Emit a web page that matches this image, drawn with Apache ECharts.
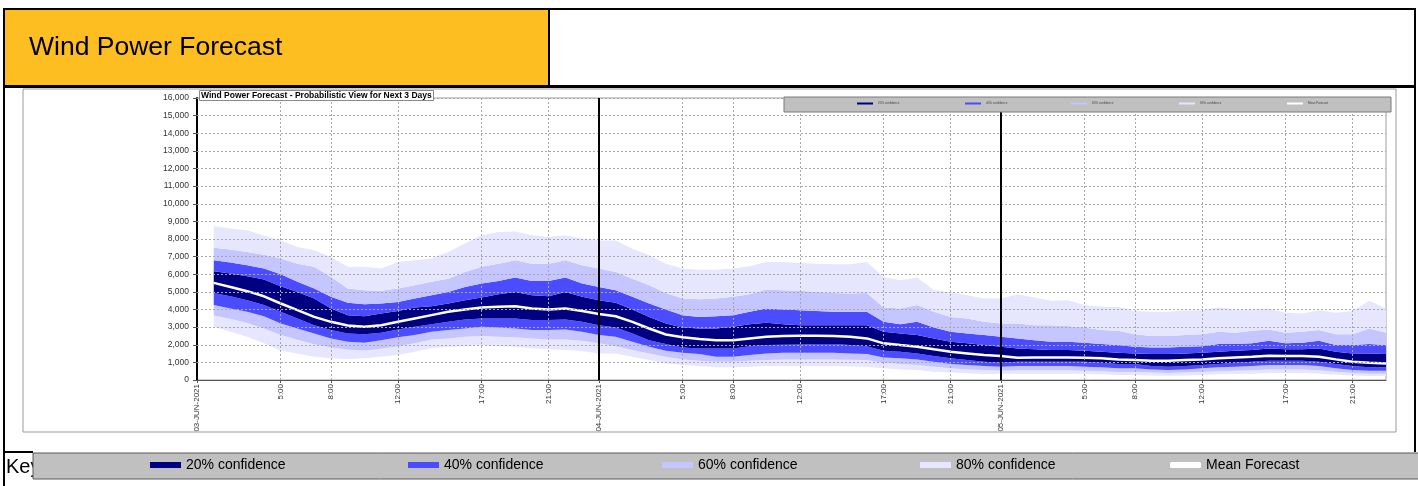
<!DOCTYPE html>
<html><head><meta charset="utf-8">
<script src="https://cdn.jsdelivr.net/npm/echarts@6/dist/echarts.min.js"></script>
<style>html,body{margin:0;padding:0;background:#fff;overflow:hidden}#c{width:1418px;height:486px}</style>
</head><body><div id="c"></div>
<script>
// ---- DATA (MW), hours counted from 03-JUN-2021 00:00 (hour 0 has no forecast) ----
const hours = [0,1,2,3,4,5,6,7,8,9,10,11,12,13,14,15,16,17,18,19,20,21,22,23,24,
  25,26,27,28,29,30,31,32,33,34,35,36,37,38,39,40,41,42,43,44,45,46,47,48,
  49,50,51,52,53,54,55,56,57,58,59,60,61,62,63,64,65,66,67,68,69,70,71];

const upper80 = [null,8720,8600,8490,8200,7920,7550,7360,6980,6420,6420,6320,6700,6790,6890,7260,7740,8210,8400,8430,8210,8110,8210,8020,7920,
  7920,7450,7080,6600,6320,6260,6260,6320,6450,6700,6700,6640,6600,6570,6570,6700,5850,5660,5810,5090,5000,4810,4620,4620,
  4870,4680,4490,4530,4250,4150,4150,3920,3870,3870,3960,3960,4110,4000,4000,4060,3810,3770,3960,3810,3920,4490,4060];
const upper60 = [null,7510,7400,7260,7110,6890,6600,6420,5850,5190,5090,5060,5190,5380,5570,5750,6130,6420,6600,6790,6600,6600,6790,6510,6320,
  6130,5750,5380,4940,4620,4580,4620,4720,4870,5130,5090,5060,5000,4940,4910,4940,4110,4060,4250,3870,3580,3490,3300,3210,
  3210,3110,3110,3060,2980,2830,2790,2600,2490,2490,2550,2600,2740,2680,2790,2870,2680,2740,2830,2600,2600,2920,2680];
const upper40 = [null,6790,6660,6510,6320,6000,5570,5190,4720,4380,4300,4340,4430,4620,4810,5000,5280,5470,5620,5810,5620,5620,5810,5470,5280,
  5090,4720,4340,4000,3680,3580,3620,3680,3870,4060,4000,3960,3920,3870,3870,3870,3300,3170,3300,2980,2740,2640,2550,2450,
  2360,2260,2170,2170,2110,2040,1980,1890,1850,1850,1890,1920,2040,2040,2080,2230,2080,2110,2230,1980,1980,2040,1980];
const upper20 = [null,6170,6040,5890,5700,5320,5000,4620,4060,3680,3620,3770,3920,4110,4190,4340,4530,4680,4870,5000,4810,4750,5000,4720,4530,
  4380,4000,3580,3210,2980,2920,2920,3020,3170,3250,3170,3110,3110,3110,3110,3110,2740,2640,2550,2360,2170,2080,1980,1890,
  1790,1740,1700,1700,1660,1600,1550,1510,1470,1470,1510,1550,1600,1660,1700,1790,1740,1740,1790,1600,1510,1510,1470];
const meanForecast = [null,5510,5280,5040,4750,4340,3960,3580,3300,3090,3020,3110,3300,3490,3680,3870,4000,4110,4150,4190,4060,4000,4060,3920,3740,
  3620,3300,2920,2580,2420,2320,2260,2260,2360,2450,2490,2510,2510,2490,2450,2360,2080,1980,1890,1740,1600,1510,1420,1360,
  1260,1280,1280,1280,1260,1230,1170,1130,1090,1090,1130,1170,1230,1280,1320,1380,1360,1360,1320,1170,1040,980,940];
const lower20 = [null,4940,4750,4530,4250,3870,3490,3110,2830,2640,2600,2680,2870,3020,3170,3300,3430,3490,3490,3490,3400,3400,3430,3300,3110,
  2980,2640,2260,2040,1850,1790,1790,1790,1920,1980,2000,2020,2040,2040,1980,1920,1660,1600,1510,1360,1230,1130,1040,980,
  1040,1040,1040,1040,1040,980,910,910,790,750,790,850,910,980,1040,1090,1090,1090,1040,910,790,720,720];
const lower40 = [null,4250,4060,3870,3620,3210,2920,2640,2360,2170,2110,2260,2420,2550,2740,2830,2920,3020,2980,2920,2830,2830,2870,2740,2550,
  2450,2170,1890,1660,1550,1470,1320,1320,1420,1510,1550,1550,1550,1550,1510,1470,1280,1230,1170,1040,910,850,790,750,
  790,790,790,790,750,720,660,660,600,570,600,660,720,750,790,850,850,850,790,660,570,530,530];
const lower60 = [null,3660,3470,3230,2920,2550,2280,2030,1840,1730,1670,1780,1920,2080,2300,2360,2450,2490,2450,2420,2360,2300,2300,2230,2080,
  1920,1700,1510,1320,1170,1090,1040,1040,1090,1130,1170,1170,1170,1170,1150,1130,980,910,850,750,660,600,570,530,
  550,550,550,550,530,500,450,450,420,400,420,450,500,530,550,600,600,600,550,470,400,360,360];
const lower80 = [null,3020,2740,2460,2080,1660,1510,1320,1230,1190,1230,1320,1420,1600,1800,1890,1920,1980,1920,1890,1790,1740,1700,1640,1510,
  1510,1320,1130,940,850,790,720,720,750,790,790,790,790,790,770,750,660,600,570,470,420,380,340,340,
  360,360,360,360,340,320,280,280,260,240,260,280,320,340,360,400,400,400,360,300,250,220,220];

const tickHours  = [0,5,8,12,17,21,24,29,32,36,41,45,48,53,56,60,65,69];
const tickLabels = ['03-JUN-2021','5:00','8:00','12:00','17:00','21:00',
  '04-JUN-2021','5:00','8:00','12:00','17:00','21:00',
  '05-JUN-2021','5:00','8:00','12:00','17:00','21:00'];
const dayHours = [24,48];
const legendNames = ['20% confidence','40% confidence','60% confidence','80% confidence','Mean Forecast'];

// ---- styling ----
const bandColor = {'20% confidence':'#000080','40% confidence':'#4b4bff','60% confidence':'#c5c5ff','80% confidence':'#e6e6ff','Mean Forecast':'#ffffff'};
const FONT = 'Arial, "Liberation Sans", sans-serif';
const Y_MAX = 16000, Y_STEP = 1000;

const cats = hours.map(String);
const bounds = [lower80, lower60, lower40, lower20, upper20, upper40, upper60, upper80];
const segNames = ['80% confidence','60% confidence','40% confidence','20% confidence','40% confidence','60% confidence','80% confidence'];
const nz = v => (v === null ? '-' : v);

const series = [];
series.push({
  name: 'base', type: 'line', stack: 'bands', symbol: 'none', silent: true, z: 2,
  lineStyle: {opacity: 0}, itemStyle: {color: 'transparent'},
  data: lower80.map(nz)
});
segNames.forEach((nm, k) => {
  series.push({
    name: nm, type: 'line', stack: 'bands', symbol: 'none', silent: true, z: 2,
    color: bandColor[nm],
    lineStyle: {width: 0, opacity: 0},
    areaStyle: {color: bandColor[nm], opacity: 1},
    data: hours.map((h, i) => bounds[k][i] === null ? '-' : bounds[k + 1][i] - bounds[k][i])
  });
});

const yGrid = [];
for (let v = Y_STEP; v <= Y_MAX; v += Y_STEP) yGrid.push({yAxis: v});
const xGrid = tickHours.filter(h => h > 0 && dayHours.indexOf(h) < 0).map(h => ({xAxis: String(h)}));

series.push({
  name: 'grid', type: 'line', symbol: 'none', silent: true, z: 3,
  lineStyle: {opacity: 0}, data: meanForecast.map(nz),
  markLine: {silent: true, symbol: 'none', animation: false, label: {show: false},
    lineStyle: {color: '#a8a8a8', type: [2, 2], width: 1},
    data: yGrid.concat(xGrid)}
});
series.push({
  name: 'Mean Forecast', type: 'line', symbol: 'none', silent: true, z: 4,
  color: '#ffffff',
  lineStyle: {color: '#ffffff', width: 2.5},
  data: meanForecast.map(nz)
});
series.push({
  name: 'days', type: 'line', symbol: 'none', silent: true, z: 5,
  lineStyle: {opacity: 0}, data: meanForecast.map(nz),
  markLine: {silent: true, symbol: 'none', animation: false, label: {show: false},
    lineStyle: {color: '#000', type: 'solid', width: 2},
    data: dayHours.map(h => ({xAxis: String(h)}))}
});

function fmtThousands(v) { return String(v).replace(/\B(?=(\d{3})+(?!\d))/g, ','); }
const isTick = idx => tickHours.indexOf(hours[idx]) >= 0;

const legends = [];
const smallLeft = [857, 965, 1071, 1179, 1287];
const bigLeft = [150, 408, 662, 920, 1170];
legendNames.forEach((nm, i) => {
  legends.push({
    data: [{name: nm, icon: nm === 'Mean Forecast' ? 'roundRect' : 'rect'}],
    left: smallLeft[i], top: 102, padding: 0, itemWidth: 16, itemHeight: 2,
    selectedMode: false, z: 12,
    textStyle: {fontSize: 3, color: '#444', fontFamily: FONT}
  });
  legends.push({
    data: [{name: nm, icon: nm === 'Mean Forecast' ? 'roundRect' : 'rect'}],
    left: bigLeft[i], top: 458, padding: 0, itemWidth: 31, itemHeight: 6,
    selectedMode: false, z: 12,
    textStyle: {fontSize: 14, color: '#000', fontFamily: FONT}
  });
});

const chart = echarts.init(document.getElementById('c'), null, {renderer: 'canvas'});
chart.setOption({
  animation: false,
  backgroundColor: '#ffffff',
  title: {
    text: 'Wind Power Forecast - Probabilistic View for Next 3 Days',
    left: 199, top: 90, padding: [1, 2, 1, 2],
    backgroundColor: '#ffffff', borderColor: '#8a8a8a', borderWidth: 1, z: 8,
    textStyle: {fontSize: 8.5, fontWeight: 'bold', color: '#000', fontFamily: FONT}
  },
  legend: legends,
  grid: {left: 197, top: 98, right: 32, bottom: 106, show: true,
    borderColor: '#a0a0a0', borderWidth: 1, backgroundColor: 'transparent'},
  xAxis: {
    type: 'category', data: cats, boundaryGap: false,
    splitLine: {show: false},
    axisLine: {show: true, onZero: false, lineStyle: {color: '#555', width: 1}},
    axisTick: {show: true, interval: idx => isTick(idx), length: 3, lineStyle: {color: '#555'}},
    axisLabel: {
      interval: idx => isTick(idx), rotate: 90, margin: 4, fontSize: 8, color: '#333', fontFamily: FONT,
      formatter: (v, idx) => { const i = tickHours.indexOf(Number(v)); return i >= 0 ? tickLabels[i] : ''; }
    }
  },
  yAxis: {
    type: 'value', min: 0, max: Y_MAX, interval: Y_STEP,
    splitLine: {show: false},
    axisLine: {show: true, lineStyle: {color: '#000', width: 2}},
    axisTick: {show: true, length: 4, lineStyle: {color: '#555'}},
    axisLabel: {fontSize: 8.5, color: '#333', margin: 8, fontFamily: FONT, formatter: fmtThousands}
  },
  graphic: [
    {type: 'rect', z: 0, shape: {x: 5, y: 10, width: 543, height: 76}, style: {fill: '#fdbe22'}},
    {type: 'rect', z: 1, shape: {x: 3, y: 8, width: 1413, height: 2}, style: {fill: '#000'}},
    {type: 'rect', z: 1, shape: {x: 3, y: 85, width: 1413, height: 3}, style: {fill: '#000'}},
    {type: 'rect', z: 1, shape: {x: 548, y: 8, width: 2, height: 79}, style: {fill: '#000'}},
    {type: 'rect', z: 1, shape: {x: 3, y: 8, width: 2, height: 478}, style: {fill: '#000'}},
    {type: 'rect', z: 1, shape: {x: 1414, y: 8, width: 2, height: 444}, style: {fill: '#000'}},
    {type: 'text', z: 1, style: {x: 29, y: 48, text: 'Wind Power Forecast', fontSize: 26.5, fontFamily: FONT, fill: '#000', textVerticalAlign: 'middle'}},
    {type: 'rect', z: 1, shape: {x: 23, y: 89, width: 1373, height: 343}, style: {fill: 'none', stroke: '#9a9a9a', lineWidth: 1}},
    {type: 'rect', z: 1, shape: {x: 3, y: 451, width: 30, height: 2}, style: {fill: '#000'}},
    {type: 'text', z: 1, style: {x: 6, y: 467, text: 'Key', fontSize: 20, fontFamily: FONT, fill: '#000', textVerticalAlign: 'middle'}},
    {type: 'rect', z: 10, shape: {x: 33, y: 453, width: 1390, height: 26}, style: {fill: '#c0c0c0', stroke: '#5a5a5a', lineWidth: 1}},
    {type: 'rect', z: 10, shape: {x: 784, y: 97, width: 607, height: 15}, style: {fill: '#c0c0c0', stroke: '#7a7a7a', lineWidth: 1}}
  ],
  series: series
});
</script>
</body></html>
